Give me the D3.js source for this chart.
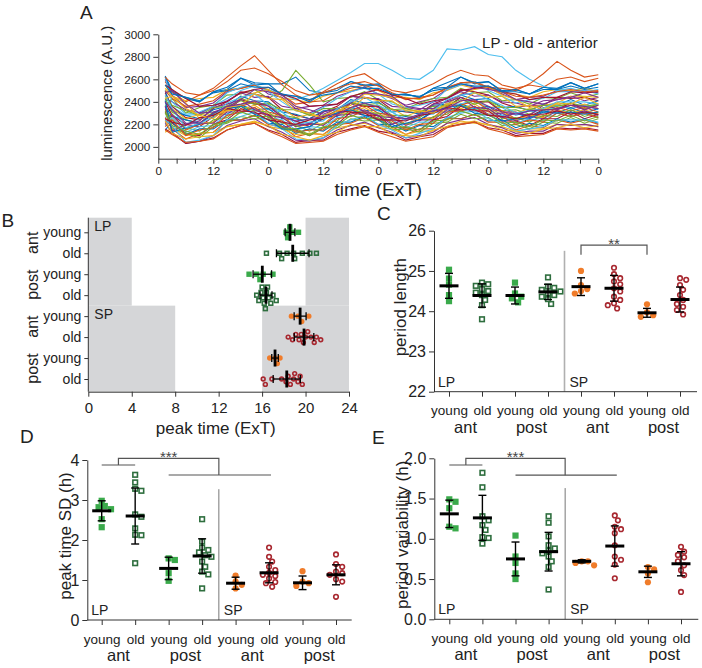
<!DOCTYPE html>
<html><head><meta charset="utf-8">
<script src="https://cdn.jsdelivr.net/npm/d3@7"></script>
<style>
body{margin:0;background:#fff}
svg{font-family:"Liberation Sans",Arial,sans-serif}
</style></head><body>
<svg width="702" height="668"></svg>
<script>
// ---- panel A : luminescence traces (LP - old - anterior) ----
const hours = [1.5,3,6,9,12,15,18,21,24,27,30,33,36,39,42,45,48,51,54,57,60,63,66,69,72,75,78,81,84,87,90,93,96];
const traces = [
 [2620,2480,2440,2400,2490,2510,2610,2550,2560,2560,2620,2500,2480,2520,2580,2540,2550,2460,2470,2440,2520,2570,2620,2560,2580,2500,2510,2470,2530,2520,2570,2520,2560],
 [2580,2490,2400,2460,2520,2620,2720,2810,2680,2550,2460,2410,2490,2560,2620,2650,2570,2500,2480,2510,2560,2630,2680,2640,2630,2550,2520,2550,2530,2600,2620,2580,2610],
 [2550,2450,2410,2430,2440,2510,2520,2550,2510,2430,2420,2390,2450,2480,2500,2530,2500,2440,2440,2420,2480,2500,2550,2520,2530,2480,2470,2440,2490,2510,2500,2520,2490],
 [2600,2460,2350,2360,2390,2490,2520,2560,2470,2440,2340,2360,2370,2450,2490,2530,2470,2430,2370,2400,2430,2510,2560,2530,2520,2470,2420,2440,2450,2500,2490,2500,2480],
 [2360,2430,2300,2350,2370,2460,2470,2510,2430,2500,2680,2550,2400,2430,2440,2490,2420,2400,2340,2390,2430,2440,2520,2480,2490,2410,2420,2380,2440,2430,2480,2440,2470],
 [2410,2360,2280,2290,2360,2430,2500,2540,2510,2470,2420,2460,2520,2590,2660,2740,2740,2680,2610,2600,2680,2870,2860,2890,2820,2800,2680,2600,2540,2500,2520,2490,2510],
 [2480,2360,2260,2240,2340,2400,2490,2470,2440,2330,2280,2250,2310,2360,2450,2440,2420,2330,2310,2300,2380,2430,2510,2490,2460,2390,2350,2370,2370,2440,2430,2440,2410],
 [2500,2320,2280,2250,2330,2360,2450,2410,2400,2310,2290,2250,2320,2330,2420,2390,2400,2310,2320,2290,2370,2380,2460,2420,2430,2350,2360,2320,2380,2370,2420,2370,2410],
 [2500,2430,2360,2380,2410,2500,2520,2550,2500,2460,2380,2400,2410,2480,2520,2550,2500,2470,2420,2440,2460,2530,2570,2580,2530,2520,2500,2560,2650,2760,2680,2620,2640],
 [2320,2340,2250,2290,2290,2370,2370,2410,2340,2340,2260,2290,2270,2350,2350,2390,2330,2340,2270,2320,2310,2390,2370,2410,2350,2360,2300,2340,2320,2380,2350,2380,2340],
 [2420,2400,2330,2300,2360,2410,2480,2440,2450,2360,2340,2300,2360,2380,2450,2430,2430,2360,2350,2330,2400,2430,2490,2450,2460,2400,2390,2360,2410,2420,2450,2410,2440],
 [2430,2310,2240,2210,2310,2330,2430,2390,2380,2280,2260,2210,2280,2300,2400,2370,2370,2280,2280,2260,2340,2360,2440,2400,2410,2320,2330,2290,2350,2340,2390,2340,2380],
 [2260,2290,2200,2250,2260,2360,2370,2410,2330,2310,2220,2250,2240,2330,2340,2390,2320,2310,2240,2290,2290,2380,2380,2420,2350,2350,2280,2320,2300,2370,2340,2370,2330],
 [2400,2280,2200,2180,2270,2320,2420,2380,2370,2260,2230,2180,2250,2280,2390,2360,2360,2250,2250,2230,2320,2350,2440,2400,2400,2310,2310,2270,2330,2330,2390,2330,2370],
 [2360,2270,2240,2210,2290,2290,2370,2330,2340,2250,2250,2210,2270,2270,2350,2320,2330,2250,2270,2240,2310,2310,2380,2340,2360,2280,2300,2260,2320,2300,2350,2300,2340],
 [2230,2290,2150,2200,2220,2340,2360,2400,2310,2280,2180,2200,2200,2300,2320,2370,2300,2280,2200,2250,2260,2360,2370,2410,2330,2320,2250,2290,2270,2350,2320,2350,2310],
 [2300,2260,2160,2210,2220,2320,2330,2370,2290,2270,2180,2210,2200,2290,2300,2350,2280,2270,2200,2250,2250,2340,2340,2380,2310,2310,2240,2280,2260,2330,2300,2330,2290],
 [2210,2280,2160,2210,2210,2310,2310,2350,2280,2260,2180,2210,2190,2280,2290,2330,2270,2260,2190,2240,2240,2330,2320,2360,2290,2300,2230,2270,2250,2320,2290,2320,2280],
 [2340,2240,2170,2140,2240,2260,2360,2320,2310,2210,2190,2140,2210,2230,2330,2300,2300,2210,2210,2190,2270,2290,2370,2330,2340,2250,2260,2220,2280,2270,2330,2270,2310],
 [2190,2260,2130,2180,2190,2290,2300,2340,2260,2240,2150,2180,2170,2260,2270,2320,2250,2240,2170,2220,2220,2310,2310,2350,2280,2280,2210,2250,2230,2300,2270,2300,2260],
 [2310,2210,2120,2100,2200,2240,2340,2300,2290,2180,2150,2100,2170,2200,2310,2280,2280,2170,2170,2150,2240,2270,2360,2320,2320,2230,2230,2190,2250,2250,2310,2250,2290],
 [2150,2220,2110,2160,2160,2240,2240,2280,2210,2200,2120,2160,2140,2220,2220,2270,2200,2200,2140,2190,2180,2260,2250,2290,2230,2240,2170,2210,2190,2250,2220,2250,2210],
 [2260,2160,2070,2120,2130,2230,2240,2280,2200,2180,2090,2120,2110,2200,2210,2260,2190,2180,2110,2160,2160,2250,2250,2290,2220,2220,2150,2190,2170,2240,2210,2240,2200],
 [2130,2170,2100,2120,2130,2180,2200,2230,2180,2160,2110,2120,2110,2170,2190,2210,2170,2160,2110,2140,2140,2210,2210,2230,2190,2180,2140,2160,2160,2200,2190,2200,2180],
 [2210,2130,2030,2050,2100,2190,2230,2250,2180,2130,2060,2050,2080,2150,2190,2220,2170,2130,2080,2100,2130,2210,2240,2260,2200,2170,2120,2140,2140,2200,2190,2200,2180],
 [2300,2170,2120,2080,2180,2210,2270,2250,2250,2160,2140,2100,2170,2170,2250,2230,2240,2150,2160,2130,2210,2220,2290,2250,2260,2190,2200,2160,2220,2210,2260,2210,2250],
 [2620,2400,2290,2310,2360,2480,2530,2560,2490,2400,2320,2290,2350,2430,2490,2520,2470,2380,2350,2370,2400,2510,2550,2580,2500,2450,2390,2420,2430,2490,2490,2500,2470],
 [2160,2120,2030,2050,2080,2150,2190,2210,2150,2110,2040,2060,2060,2130,2160,2190,2140,2120,2060,2090,2110,2180,2200,2220,2170,2150,2100,2120,2120,2170,2160,2170,2150],
 [2630,2500,2430,2400,2490,2530,2610,2570,2560,2460,2450,2400,2480,2500,2580,2550,2560,2460,2470,2440,2520,2530,2620,2570,2580,2490,2510,2470,2530,2510,2570,2520,2560],
 [2180,2240,2100,2150,2170,2280,2310,2350,2260,2230,2130,2150,2150,2250,2270,2320,2250,2230,2150,2200,2210,2310,2320,2360,2280,2270,2200,2240,2220,2300,2270,2300,2260],
 [2520,2450,2390,2250,2280,2320,2440,2480,2510,2430,2360,2280,2270,2320,2370,2470,2460,2440,2340,2310,2330,2370,2470,2510,2530,2460,2420,2350,2370,2390,2450,2450,2440],
 [2360,2140,2200,2230,2350,2380,2420,2330,2280,2170,2200,2200,2310,2340,2390,2310,2280,2200,2250,2270,2380,2400,2440,2350,2340,2260,2300,2280,2370,2340,2370,2330,2370],
 [2450,2370,2320,2280,2350,2360,2410,2380,2390,2330,2330,2280,2340,2340,2390,2370,2390,2330,2340,2310,2360,2370,2420,2380,2410,2350,2350,2330,2370,2360,2390,2360,2380],
 [2240,2190,2040,2060,2100,2240,2270,2310,2210,2160,2070,2060,2080,2190,2240,2280,2200,2150,2080,2120,2160,2260,2300,2320,2250,2210,2140,2160,2180,2240,2240,2240,2220],
 [2550,2510,2430,2360,2370,2400,2480,2510,2530,2470,2430,2360,2370,2380,2450,2480,2510,2460,2430,2380,2410,2430,2500,2520,2540,2490,2470,2420,2440,2440,2490,2480,2490],
 [2410,2130,2170,2200,2300,2340,2360,2290,2240,2160,2160,2180,2260,2300,2330,2280,2240,2180,2210,2240,2320,2350,2370,2300,2280,2230,2250,2250,2310,2300,2310,2290,2310],
 [2620,2560,2480,2460,2500,2580,2680,2700,2650,2580,2500,2460,2480,2520,2560,2580,2540,2480,2430,2430,2460,2520,2570,2570,2530,2490,2450,2440,2460,2490,2510,2490,2500],
 [2230,2120,2070,2090,2100,2180,2200,2220,2190,2110,2090,2060,2100,2130,2200,2180,2180,2110,2100,2090,2150,2180,2230,2210,2200,2150,2140,2120,2160,2170,2200,2170,2190],
 [2480,2500,2380,2300,2310,2350,2420,2510,2490,2460,2360,2330,2290,2340,2390,2480,2470,2450,2360,2340,2340,2410,2460,2530,2510,2490,2420,2400,2380,2420,2440,2480,2440],
 [2320,2190,2140,2110,2200,2220,2310,2270,2270,2170,2160,2110,2180,2190,2280,2250,2260,2170,2180,2150,2230,2240,2320,2280,2290,2210,2220,2180,2240,2230,2280,2230,2270],
 [2460,2340,2170,2210,2260,2390,2440,2470,2370,2310,2200,2220,2230,2340,2400,2440,2370,2310,2230,2280,2320,2420,2460,2480,2420,2370,2300,2320,2340,2400,2400,2400,2380],
 [2250,2220,2190,2260,2280,2340,2320,2310,2240,2220,2200,2240,2260,2320,2310,2300,2240,2240,2230,2280,2300,2350,2330,2330,2280,2270,2250,2290,2290,2320,2290,2310,2290],
 [2550,2470,2440,2410,2480,2500,2560,2530,2530,2470,2450,2420,2460,2480,2540,2520,2520,2470,2460,2450,2500,2520,2560,2540,2540,2490,2490,2470,2510,2510,2540,2510,2530],
 [2150,2110,2040,2050,2070,2150,2190,2210,2140,2090,2030,2040,2050,2110,2150,2180,2130,2090,2050,2070,2090,2170,2200,2220,2160,2130,2090,2100,2110,2160,2150,2160,2140],
 [2430,2450,2340,2280,2250,2350,2370,2470,2430,2420,2320,2300,2250,2320,2340,2440,2410,2410,2320,2320,2300,2380,2400,2480,2440,2450,2360,2370,2330,2390,2380,2440,2380],
 [2400,2330,2210,2210,2300,2360,2380,2410,2360,2270,2230,2250,2270,2290,2350,2390,2350,2270,2250,2290,2320,2340,2410,2420,2360,2310,2290,2320,2330,2330,2370,2360,2340]
];
const traceColors = ["#0072BD","#D95319","#EDB120","#7E2F8E","#77AC30","#4DBEEE","#A2142F"];
const lumTicks = [2000,2200,2400,2600,2800,3000];

// ---- panels B-E : groups ----
const groups = ["LP ant young","LP ant old","LP post young","LP post old","SP ant young","SP ant old","SP post young","SP post old"];

// B : peak time (ExT)
const peakPts = [
 [18.2,18.35,18.55,18.8,19.35],
 [16.4,17.6,17.8,18.3,18.9,19.0,19.7,20.4,21.0],
 [14.8,15.5,15.8,16.1,17.0],
 [15.5,15.7,15.9,16.0,16.1,16.2,16.3,16.4,16.5,16.6,16.8,17.0,17.3],
 [18.7,19.3,19.65,20.3],
 [18.4,18.8,19.1,19.4,19.6,19.8,20.0,20.2,20.5,20.8,21.0,21.4],
 [16.7,17.2,17.4,17.65],
 [16.1,16.3,16.9,17.8,18.2,18.4,18.6,18.9,19.0,19.3,19.5,19.7]
];
const peakMean = [18.57,18.82,16.02,16.36,19.5,19.86,17.19,18.27];
const peakSD = [0.45,1.5,0.85,0.55,0.55,0.9,0.3,1.25];
const nights = {LP: [[0,4],[20,24]], SP: [[0,8],[16,24]]};

// C : period length
const periodPts = [
 [25.03,24.81,24.66,24.4,24.25],
 [24.71,24.67,24.63,24.55,24.5,24.46,24.4,24.28,24.15,23.8],
 [24.71,24.44,24.36,24.32,24.22],
 [24.84,24.61,24.58,24.53,24.49,24.44,24.4,24.36,24.3,24.18],
 [25.0,24.65,24.55,24.5,24.44],
 [25.08,24.92,24.82,24.74,24.67,24.57,24.49,24.36,24.28,24.2,24.15,24.07],
 [24.17,23.97,23.9,23.86],
 [24.82,24.78,24.65,24.53,24.4,24.28,24.18,24.11,24.03,23.92]
];
const periodMean = [24.63,24.39,24.39,24.48,24.61,24.57,23.96,24.29];
const periodSD = [0.31,0.29,0.21,0.19,0.22,0.32,0.11,0.31];

// D : peak time SD (h)
const sdPts = [
 [2.98,2.85,2.82,2.77,2.52,2.32],
 [3.63,3.44,3.28,3.23,2.64,2.58,2.29,2.13,2.12,1.42],
 [1.54,1.5,1.17,0.98],
 [2.52,1.96,1.81,1.75,1.69,1.62,1.58,1.46,1.33,1.21,1.14,0.79],
 [1.11,0.96,0.88,0.79],
 [1.81,1.58,1.46,1.33,1.25,1.18,1.13,1.1,1.04,0.95,0.92,0.83],
 [1.22,0.96,0.92,0.85],
 [1.64,1.4,1.33,1.21,1.17,1.13,1.02,0.96,0.58]
];
const sdMean = [2.73,2.6,1.29,1.6,0.92,1.18,0.93,1.13];
const sdSD = [0.25,0.7,0.28,0.43,0.15,0.25,0.17,0.25];

// E : period variability (h)
const varPts = [
 [1.49,1.46,1.38,1.15,1.13],
 [1.82,1.64,1.28,1.23,1.17,1.11,1.02,1.01,0.94],
 [1.04,0.78,0.7,0.57,0.5],
 [1.28,1.2,1.03,0.92,0.88,0.85,0.82,0.78,0.72,0.65,0.37],
 [0.72,0.72,0.7,0.67],
 [1.29,1.23,1.15,1.12,1.07,0.92,0.78,0.74,0.68,0.51],
 [0.65,0.62,0.57,0.46],
 [0.9,0.84,0.8,0.77,0.72,0.67,0.61,0.55,0.34]
];
const varMean = [1.31,1.26,0.75,0.84,0.72,0.91,0.59,0.69];
const varSD = [0.17,0.28,0.21,0.24,0.02,0.25,0.07,0.15];

const svg = d3.select("svg");
const AX = "#333", TX = "#222";

function styleAxis(g, size){
	g.selectAll("path,line").attr("stroke",AX).attr("stroke-width",1);
	g.selectAll("text").attr("fill",TX).style("font-size",size+"px");
}
function letter(t,x,y){
	svg.append("text").attr("x",x).attr("y",y).text(t)
		.style("font-size","19px").attr("fill",TX);
}
function colorOf(gn){
	let lp = gn.startsWith("LP"), young = gn.endsWith("young");
	return lp ? (young ? "#3aaa4b" : "#2e6e3e") : (young ? "#f07c2a" : "#a82830");
}
function marker(g, cx, cy, gn, s){
	let c = colorOf(gn), young = gn.endsWith("young");
	let sz = young ? s : s - 1.6;
	let m;
	if(gn.startsWith("LP")){
		m = g.append("rect").attr("x",cx-sz/2).attr("y",cy-sz/2).attr("width",sz).attr("height",sz);
	}else{
		m = g.append("circle").attr("cx",cx).attr("cy",cy).attr("r",sz/2);
	}
	if(young) m.attr("fill",c);
	else m.attr("fill","none").attr("stroke",c).attr("stroke-width",1.6);
}
// simple beeswarm: offset perpendicular to the value axis
function swarm(vals, scale, s){
	let order = vals.map((v,i)=>({i, p: scale(v)})).sort((a,b)=>a.p-b.p);
	let placed = [], off = [];
	order.forEach(o=>{
		for(let k=0;k<60;k++){
			let d = (k%2 ? 1 : -1) * Math.ceil(k/2) * s*0.5;
			if(placed.every(q => Math.hypot(q.p-o.p, q.d-d) >= s*0.9)){
				placed.push({p:o.p, d}); off[o.i] = d; return;
			}
		}
		off[o.i] = 0;
	});
	return off;
}

// ================= A =================
{
	const x = d3.scaleLinear().domain([0,96]).range([158.3,598.3]);
	const y = d3.scaleLinear().domain([1895,3000]).range([158.7,34.3]);
	const line = d3.line().x((d,i)=>x(hours[i])).y(d=>y(d));
	svg.append("g").selectAll("path").data(traces).join("path")
		.attr("d",line).attr("fill","none")
		.attr("stroke",(d,i)=>traceColors[i%traceColors.length])
		.attr("stroke-width",1.1);
	const gx = svg.append("g").attr("transform","translate(0,158.7)")
		.call(d3.axisBottom(x).tickValues(d3.range(0,97,4)).tickSize(5).tickSizeOuter(0)
			.tickFormat(d => d%12===0 ? String(d%24) : ""));
	styleAxis(gx,11.7);
	const gy = svg.append("g").attr("transform","translate(158.3,0)")
		.call(d3.axisLeft(y).tickValues(lumTicks).tickFormat(d3.format("d")).tickSize(5).tickSizeOuter(0));
	styleAxis(gy,11.7);
	svg.append("text").attr("x",378.3).attr("y",196).attr("text-anchor","middle")
		.style("font-size","19px").attr("fill",TX).text("time (ExT)");
	svg.append("text").attr("transform","translate(106.7,93.3) rotate(-90)").attr("dy","0.35em")
		.attr("text-anchor","middle").style("font-size","15px").attr("fill",TX).text("luminescence (A.U.)");
	svg.append("text").attr("x",597.7).attr("y",48.3).attr("text-anchor","end")
		.style("font-size","15px").attr("fill",TX).text("LP - old - anterior");
	letter("A",80,18.5);
}

// ================= B =================
{
	const left = 88.3, right = 349, top = 217.7, bottom = 391.7;
	const x = d3.scaleLinear().domain([0,24]).range([left,right]);
	const y = d3.scalePoint().domain(groups).range([232.3,379]);
	const mid = (y(groups[3]) + y(groups[4]))/2;
	const g = svg.append("g");
	[["LP",top,mid],["SP",mid,bottom]].forEach(([k,y0,y1])=>{
		nights[k].forEach(n=>{
			g.append("rect").attr("x",x(n[0])).attr("width",x(n[1])-x(n[0]))
				.attr("y",y0).attr("height",y1-y0).attr("fill","#d5d6d8");
		});
		g.append("text").attr("x",94.3).attr("y",y0+13).text(k)
			.style("font-size","14px").attr("fill",TX);
	});
	groups.forEach((gn,gi)=>{
		let cy = y(gn), s = 5.4;
		let off = swarm(peakPts[gi], x, s);
		peakPts[gi].forEach((v,i)=> marker(g, x(v), cy+off[i], gn, s));
		let m = peakMean[gi], sd = peakSD[gi];
		g.append("line").attr("x1",x(m-sd)).attr("x2",x(m+sd)).attr("y1",cy).attr("y2",cy)
			.attr("stroke","#000").attr("stroke-width",1.3);
		[m-sd,m+sd].forEach(v=> g.append("line").attr("x1",x(v)).attr("x2",x(v))
			.attr("y1",cy-4).attr("y2",cy+4).attr("stroke","#000").attr("stroke-width",1.3));
		g.append("line").attr("x1",x(m)).attr("x2",x(m)).attr("y1",cy-8.5).attr("y2",cy+8.5)
			.attr("stroke","#000").attr("stroke-width",2.8);
	});
	const gx = svg.append("g").attr("transform",`translate(0,${bottom})`)
		.call(d3.axisBottom(x).tickValues(d3.range(0,25,4)).tickSize(5).tickSizeOuter(0));
	styleAxis(gx,15);
	gx.selectAll("text").attr("dy","0.9em");
	const gy = svg.append("g").attr("transform",`translate(${left},0)`)
		.call(d3.axisLeft(y).tickSize(4).tickFormat(d=>d.split(" ")[2]));
	gy.select(".domain").remove();
	styleAxis(gy,14);
	g.append("line").attr("x1",left).attr("x2",left).attr("y1",top).attr("y2",bottom)
		.attr("stroke",AX);
	[[0,"ant"],[2,"post"],[4,"ant"],[6,"post"]].forEach(([i,t])=>{
		let cy = (y(groups[i])+y(groups[i+1]))/2;
		svg.append("text").attr("transform",`translate(32,${cy}) rotate(-90)`).attr("dy","0.35em")
			.attr("text-anchor","middle").style("font-size","16px").attr("fill",TX).text(t);
	});
	svg.append("text").attr("x",215.8).attr("y",434).attr("text-anchor","middle")
		.style("font-size","17px").attr("fill",TX).text("peak time (ExT)");
	letter("B",1.5,226.7);
}

// ================= C, D, E =================
function dotPanel(p){
	const y = d3.scaleLinear().domain(p.domain).range([p.bottom,p.top]);
	const x = d3.scalePoint().domain(groups).range([p.first,p.last]);
	const g = svg.append("g");
	const sepX = (x(groups[3])+x(groups[4]))/2;
	g.append("line").attr("x1",sepX).attr("x2",sepX).attr("y1",y(p.sepTop)).attr("y2",p.bottom)
		.attr("stroke",p.sepColor).attr("stroke-width",p.sepWidth);
	g.append("text").attr("x",p.left+4).attr("y",p.bottom-5).text("LP").style("font-size","14px").attr("fill",TX);
	g.append("text").attr("x",sepX+5).attr("y",p.bottom-5).text("SP").style("font-size","14px").attr("fill",TX);
	groups.forEach((gn,gi)=>{
		let cx = x(gn), s = 6.2;
		let off = swarm(p.pts[gi], y, s);
		p.pts[gi].forEach((v,i)=> marker(g, cx+off[i], y(v), gn, s));
		let m = p.mean[gi], sd = p.sd[gi];
		g.append("line").attr("x1",cx).attr("x2",cx).attr("y1",y(m-sd)).attr("y2",y(m+sd))
			.attr("stroke","#000").attr("stroke-width",1.4);
		[m-sd,m+sd].forEach(v=> g.append("line").attr("x1",cx-4).attr("x2",cx+4)
			.attr("y1",y(v)).attr("y2",y(v)).attr("stroke","#000").attr("stroke-width",1.4));
		g.append("line").attr("x1",cx-9.5).attr("x2",cx+9.5).attr("y1",y(m)).attr("y2",y(m))
			.attr("stroke","#000").attr("stroke-width",3);
	});
	// significance brackets
	const bk = g.append("g").attr("fill","none").attr("stroke","#555").attr("stroke-width",1.2);
	p.brackets.forEach(b=>{
		if(b.type==="cap"){
			let x0 = x(groups[b.a]), x1 = x(groups[b.b]);
			bk.append("path").attr("d",`M${x0},${y(b.low)}V${y(b.high)}H${x1}V${y(b.low)}`);
			g.append("text").attr("x",(x0+x1)/2).attr("y",y(b.high)+4).attr("text-anchor","middle")
				.style("font-size","15px").attr("fill","#444").text(b.label);
		}else{
			let a0 = x(groups[0]), a1 = x(groups[1]), am = (a0+a1)/2;
			let c0 = x(groups[2]), c1 = x(groups[5]);
			bk.append("path").attr("d",`M${a0},${y(b.y1)}H${a1}`);
			bk.append("path").attr("d",`M${am},${y(b.y1)}V${y(b.y2)}H${sepX}V${y(b.y3)}`);
			bk.append("path").attr("d",`M${c0},${y(b.y3)}H${c1+2}`);
			g.append("text").attr("x",(am+sepX)/2).attr("y",y(b.y2)+3.5).attr("text-anchor","middle")
				.style("font-size","15px").attr("fill","#444").text(b.label);
		}
	});
	const gy = svg.append("g").attr("transform",`translate(${p.left},0)`)
		.call(d3.axisLeft(y).tickValues(p.ticks).tickFormat(p.fmt).tickSize(5).tickSizeOuter(0));
	styleAxis(gy,16);
	const gx = svg.append("g").attr("transform",`translate(0,${p.bottom})`)
		.call(d3.axisBottom(x).tickSize(5).tickFormat(d=>d.split(" ")[2]));
	gx.select(".domain").remove();
	styleAxis(gx,13.5);
	gx.selectAll("text").attr("dy","1.15em");
	svg.append("line").attr("x1",p.left).attr("x2",p.right).attr("y1",p.bottom).attr("y2",p.bottom).attr("stroke",AX);
	[[0,"ant"],[2,"post"],[4,"ant"],[6,"post"]].forEach(([i,t])=>{
		svg.append("text").attr("x",(x(groups[i])+x(groups[i+1]))/2).attr("y",p.bottom+41)
			.attr("text-anchor","middle").style("font-size","16.5px").attr("fill",TX).text(t);
	});
	svg.append("text").attr("transform",`translate(${p.labelX},${(p.top+p.bottom)/2 - 4}) rotate(-90)`)
		.attr("dy","0.35em").attr("text-anchor","middle").style("font-size","17px").attr("fill",TX).text(p.label);
	letter(p.letter, p.letterX, p.letterY);
}

dotPanel({letter:"C", letterX:377, letterY:220, left:434, right:697, top:230.7, bottom:391.7,
	first:449, last:680, domain:[22,26], ticks:[22,23,24,25,26], fmt:d3.format("d"),
	pts:periodPts, mean:periodMean, sd:periodSD, label:"period length", labelX:400,
	sepTop:25.5, sepColor:"#b0b0b0", sepWidth:1.6,
	brackets:[{type:"cap", a:4, b:6, low:25.4, high:25.64, label:"**"}]});

dotPanel({letter:"D", letterX:20, letterY:443, left:87.3, right:351.7, top:460, bottom:620,
	first:101.7, last:336, domain:[0,4], ticks:[0,1,2,3,4], fmt:d3.format("d"),
	pts:sdPts, mean:sdMean, sd:sdSD, label:"peak time SD (h)", labelX:65,
	sepTop:3.27, sepColor:"#777", sepWidth:1,
	brackets:[{type:"nest", y1:3.875, y2:4.04, y3:3.625, label:"***"}]});

dotPanel({letter:"E", letterX:372, letterY:444, left:434.3, right:698.3, top:458.3, bottom:619.3,
	first:449.3, last:681, domain:[0,2], ticks:[0,0.5,1,1.5,2], fmt:d3.format(".1f"),
	pts:varPts, mean:varMean, sd:varSD, label:"period variability (h)", labelX:401.7,
	sepTop:1.63, sepColor:"#777", sepWidth:1,
	brackets:[{type:"nest", y1:1.917, y2:2.0, y3:1.79, label:"***"}]});
</script></body></html>
